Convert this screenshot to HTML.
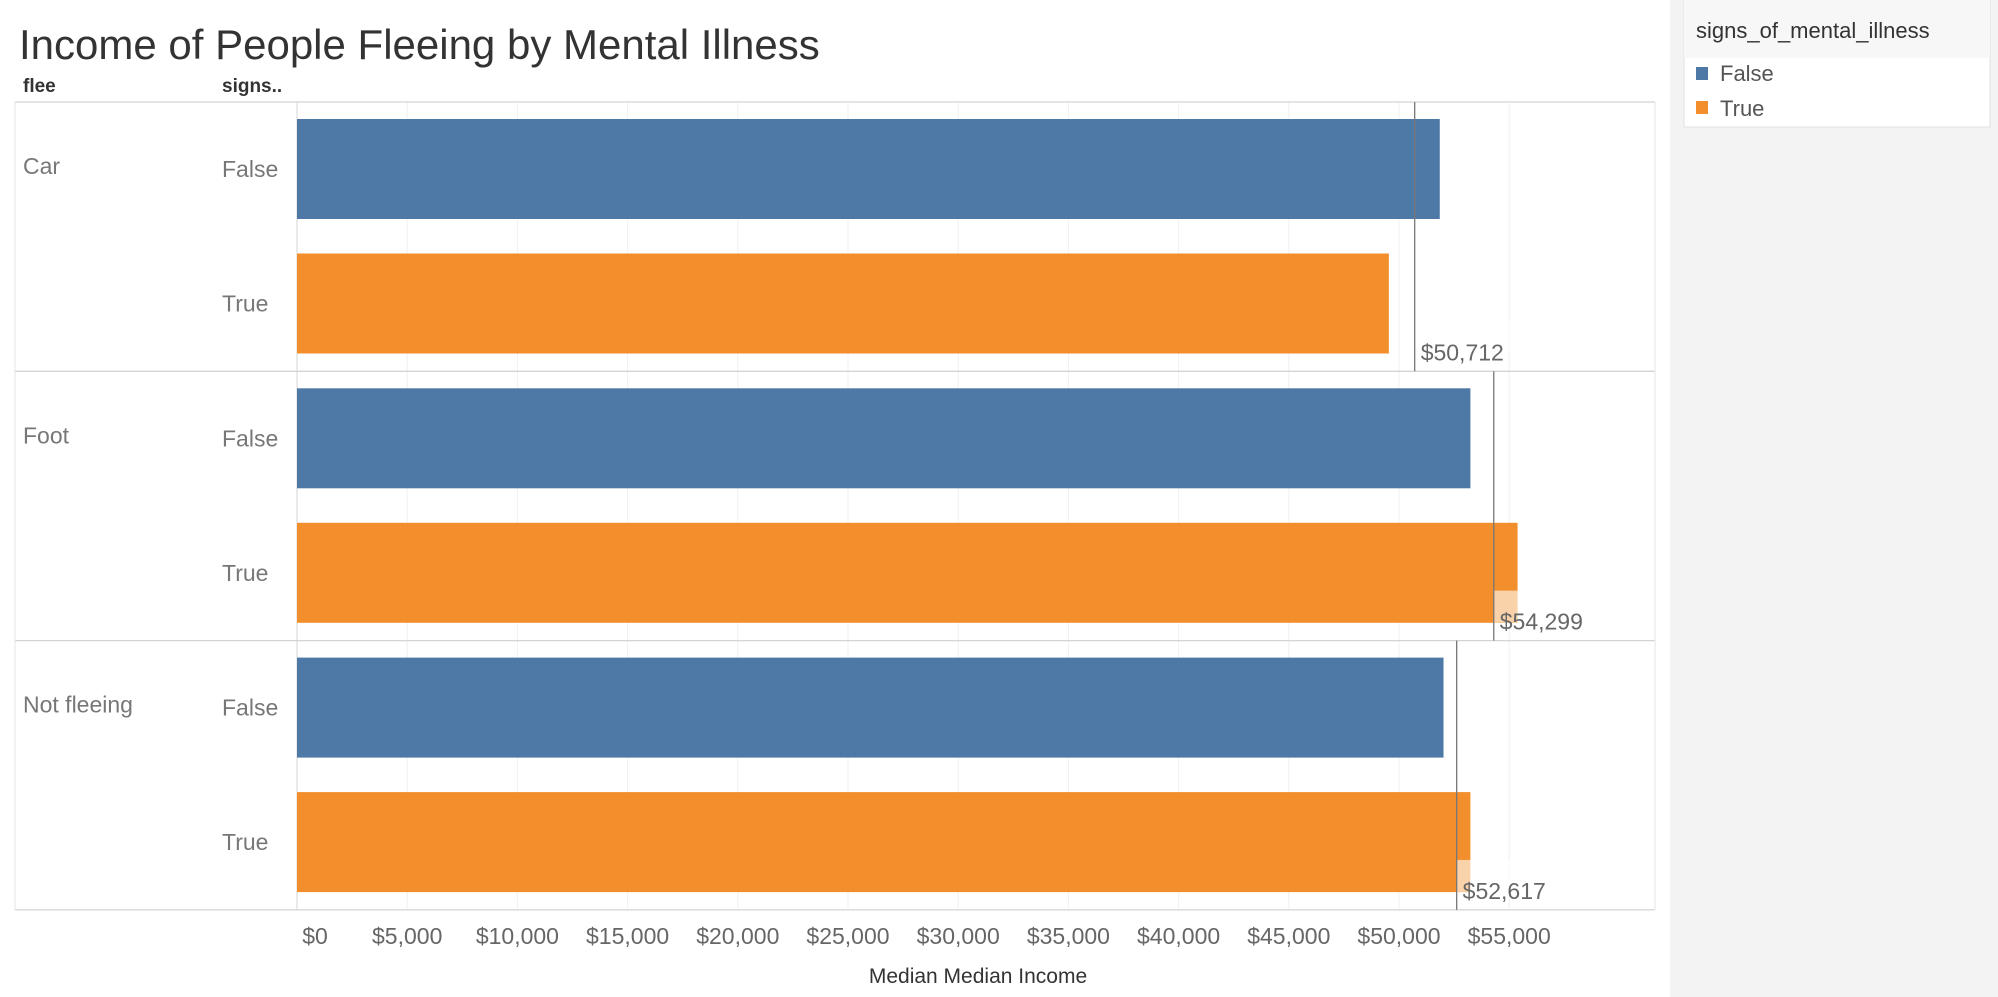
<!DOCTYPE html>
<html><head><meta charset="utf-8"><style>
html,body{margin:0;padding:0;background:#fff;}
svg{display:block;font-family:"Liberation Sans",sans-serif;}
</style></head><body>
<svg id="chart" width="1998" height="997" viewBox="0 0 1998 997">
<rect x="1670" y="0" width="328" height="997" fill="#f3f3f3"/>
<rect x="1684" y="0" width="306" height="127" fill="#fff" stroke="#e0e0e0"/>
<rect x="1684" y="0" width="306" height="58" fill="#f7f7f7"/>
<text x="1696" y="38" font-size="22" fill="#333">signs_of_mental_illness</text>
<rect x="1696" y="67" width="12" height="13" fill="#4e79a7"/>
<text x="1720" y="81" font-size="22" fill="#555">False</text>
<rect x="1696" y="101" width="12" height="13" fill="#f28e2b"/>
<text x="1720" y="116" font-size="22" fill="#555">True</text>
<text x="19" y="59" font-size="42" fill="#333">Income of People Fleeing by Mental Illness</text>
<text x="23" y="92" font-size="19" font-weight="bold" fill="#333">flee</text>
<text x="222" y="92" font-size="19" font-weight="bold" fill="#333">signs..</text>
<text x="978" y="983" font-size="21" fill="#333" text-anchor="middle">Median Median Income</text>
<g id="plot"></g>
</svg>
<script>
const groups = ["Car","Foot","Not fleeing"];
const subcats = ["False","True"];
const valuesFalse = [51850, 53240, 52020];
const valuesTrue = [49540, 55380, 53240];
const refValues = [50712, 54299, 52617];
const refLabels = ["$50,712","$54,299","$52,617"];
const tickValues = [0,5000,10000,15000,20000,25000,30000,35000,40000,45000,50000,55000];
const tickLabels = ["$0","$5,000","$10,000","$15,000","$20,000","$25,000","$30,000","$35,000","$40,000","$45,000","$50,000","$55,000"];

const NS="http://www.w3.org/2000/svg";
const plot=document.getElementById('plot');
const X0=297, X1=1655, PX=110.2/5000;
const Y0=102, GH=269.3;
function x(v){return X0+v*PX;}
function gy(i){return Y0+i*GH;}
function mk(tag,a){const e=document.createElementNS(NS,tag);for(const k in a)e.setAttribute(k,a[k]);plot.appendChild(e);return e;}

tickValues.forEach((t,i)=>{
  const g=mk('line',{x1:x(t),x2:x(t),y1:Y0,y2:Y0+3*GH,stroke:'#f0f0f0','stroke-width':1});
  
  
  const tx=mk('text',{x:x(t)+(i==0?18:0),y:944,'font-size':23,fill:'#666','text-anchor':'middle'});
  tx.textContent=tickLabels[i];
  
  
});
for(let i=0;i<=3;i++){
  const l=mk('line',{x1:15,x2:X1,y1:gy(i),y2:gy(i),stroke:'#d4d4d4','stroke-width':1.3});
  
  
}
let l2=mk('line',{x1:X0,x2:X0,y1:Y0,y2:Y0+3*GH,stroke:'#d4d4d4'});


let l3=mk('line',{x1:X1,x2:X1,y1:Y0,y2:Y0+3*GH,stroke:'#e4e4e4'});


let l4=mk('line',{x1:15,x2:15,y1:Y0,y2:Y0+3*GH,stroke:'#e4e4e4'});



groups.forEach((g,i)=>{
  const top=gy(i);
  const gl=mk('text',{x:23,y:top+72,'font-size':23,fill:'#777'});
  gl.textContent=g;
  
  
  [valuesFalse[i],valuesTrue[i]].forEach((v,j)=>{
    const by=top+17+j*134.5;
    const r=mk('rect',{x:X0,y:by,width:x(v)-X0,height:100,fill:j?'#f28e2b':'#4e79a7'});
    
    
    const sl=mk('text',{x:222,y:by+58,'font-size':23,fill:'#777'});
    sl.textContent=subcats[j];
    
    
  });
  const rx=x(refValues[i]);
  const bg=mk('rect',{x:rx,y:top+GH-50,width:95,height:32,fill:'#fff',opacity:0.6});
  
  
  const rl=mk('line',{x1:rx,x2:rx,y1:top,y2:top+GH,stroke:'#777','stroke-width':1.3});
  
  
  const rt=mk('text',{x:rx+6,y:top+GH-11,'font-size':23,fill:'#666'});
  rt.textContent=refLabels[i];
  
  
});
</script>
</body></html>
